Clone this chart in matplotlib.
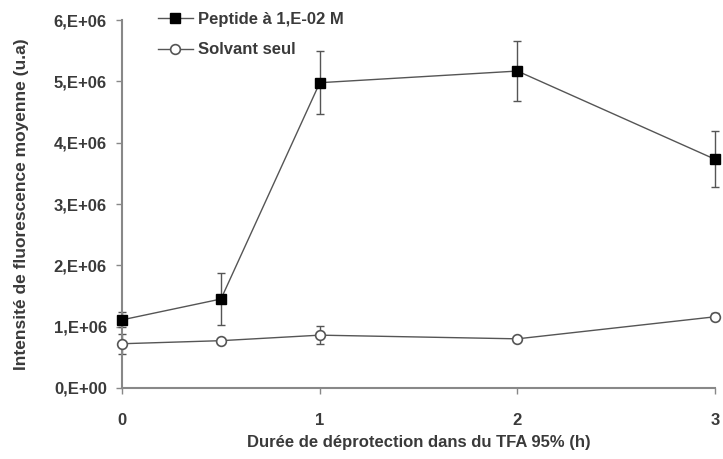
import matplotlib
matplotlib.use("Agg")
import matplotlib.pyplot as plt

x = [0, 0.5, 1, 2, 3]
peptide = [1.11e6, 1.45e6, 4.98e6, 5.17e6, 3.73e6]
peptide_err = [0.12e6, 0.43e6, 0.51e6, 0.49e6, 0.46e6]
solvant = [0.72e6, 0.77e6, 0.86e6, 0.80e6, 1.16e6]
solvant_err = [0.16e6, 0.03e6, 0.15e6, 0.03e6, 0.06e6]
yticks = [0, 1e6, 2e6, 3e6, 4e6, 5e6, 6e6]
ytick_labels = ["0,E+00", "1,E+06", "2,E+06", "3,E+06", "4,E+06", "5,E+06", "6,E+06"]
xticks = [0, 1, 2, 3]

plt.rcParams['font.family'] = ['Liberation Sans', 'DejaVu Sans']
txt = '#3a3a3a'
line_c = '#555555'
fig = plt.figure(figsize=(7.23, 4.59), dpi=100)
ax = fig.add_axes([0.169, 0.155, 0.820, 0.801])

ax.errorbar(x, peptide, yerr=peptide_err, fmt='none', ecolor=line_c,
            elinewidth=1.0, capsize=3, clip_on=False, zorder=2)
ax.errorbar(x, solvant, yerr=solvant_err, fmt='none', ecolor=line_c,
            elinewidth=1.0, capsize=3, clip_on=False, zorder=2)
ax.plot(x, peptide, color=line_c, lw=1.0, marker='s', ms=7, mfc='black',
        mec='black', label='Peptide à 1,E-02 M', clip_on=False, zorder=3)
ax.plot(x, solvant, color=line_c, lw=1.0, marker='o', ms=7, mfc='white',
        mec=line_c, mew=1.2, label='Solvant seul', clip_on=False, zorder=3)

ax.set_xlim(0, 3)
ax.set_ylim(0, 6e6)
ax.set_yticks(yticks)
ax.set_yticklabels(ytick_labels)
ax.set_xticks(xticks)
ax.set_xticklabels([str(v) for v in xticks])
for s in ['top', 'right']:
    ax.spines[s].set_visible(False)
for s in ['left', 'bottom']:
    ax.spines[s].set_color('#888888')
    ax.spines[s].set_linewidth(1.5)
ax.tick_params(axis='both', colors='#888888', labelcolor=txt, length=4, width=1, labelsize=12)
for lab in ax.get_xticklabels() + ax.get_yticklabels():
    lab.set_fontweight('bold')
ax.tick_params(axis='x', pad=14)
ax.tick_params(axis='y', pad=7)

ax.set_xlabel('Durée de déprotection dans du TFA 95% (h)', fontsize=12,
              fontweight='bold', color=txt, labelpad=5)
ax.set_ylabel('Intensité de fluorescence moyenne (u.a)', fontsize=12.5,
              fontweight='bold', color=txt, labelpad=18)

leg = ax.legend(loc='upper left', bbox_to_anchor=(0.035, 1.064), frameon=False,
                prop={'weight': 'bold', 'size': 12}, handlelength=2.1,
                handletextpad=0.3, labelspacing=0.95)
for t in leg.get_texts():
    t.set_color(txt)

fig.savefig('out.png', dpi=100)
